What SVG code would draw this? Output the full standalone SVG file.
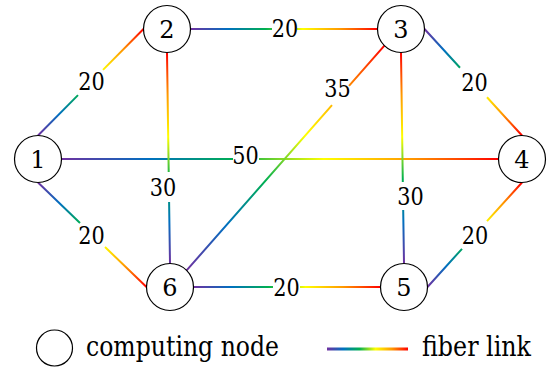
<svg xmlns="http://www.w3.org/2000/svg" width="551" height="370" viewBox="0 0 551 370">
  <style>
    text { font-family: "DejaVu Serif", "Liberation Serif", serif; fill: #000000; }
    .node circle { fill: #ffffff; stroke: #000000; stroke-width: 1.2; }
    .node text { font-size: 24px; text-anchor: middle; }
    .weight { font-size: 24px; text-anchor: middle; }
    .link { fill: none; stroke-width: 2; stroke-linecap: butt; }
    .legend text { font-size: 27px; }
  </style>
  <defs>
    <!-- spectrum used for every fiber link: purple end to red end -->
    <linearGradient id="rainbow">
      <stop offset="0" stop-color="#7030A0"/>
      <stop offset="0.2" stop-color="#0070C0"/>
      <stop offset="0.4" stop-color="#00B050"/>
      <stop offset="0.6" stop-color="#FFFF00"/>
      <stop offset="0.8" stop-color="#FF9900"/>
      <stop offset="1" stop-color="#FF0000"/>
    </linearGradient>
    <linearGradient id="g12" href="#rainbow" gradientUnits="userSpaceOnUse" x1="38" y1="135.5" x2="143.5" y2="29"/>
    <linearGradient id="g23" href="#rainbow" gradientUnits="userSpaceOnUse" x1="190.5" y1="29" x2="377.5" y2="29"/>
    <linearGradient id="g14" href="#rainbow" gradientUnits="userSpaceOnUse" x1="61.5" y1="159" x2="498.5" y2="159"/>
    <linearGradient id="g62" href="#rainbow" gradientUnits="userSpaceOnUse" x1="170" y1="263.5" x2="167" y2="52.5"/>
    <linearGradient id="g63" href="#rainbow" gradientUnits="userSpaceOnUse" x1="186.6" y1="270.4" x2="384.4" y2="45.6"/>
    <linearGradient id="g34" href="#rainbow" gradientUnits="userSpaceOnUse" x1="424.5" y1="29" x2="522" y2="135.5"/>
    <linearGradient id="g53" href="#rainbow" gradientUnits="userSpaceOnUse" x1="404" y1="263.5" x2="401" y2="52.5"/>
    <linearGradient id="g16" href="#rainbow" gradientUnits="userSpaceOnUse" x1="38" y1="182.5" x2="146.5" y2="287"/>
    <linearGradient id="g65" href="#rainbow" gradientUnits="userSpaceOnUse" x1="193.5" y1="287" x2="380.5" y2="287"/>
    <linearGradient id="g54" href="#rainbow" gradientUnits="userSpaceOnUse" x1="427.5" y1="287" x2="522" y2="182.5"/>
    <linearGradient id="gLegend" href="#rainbow" gradientUnits="userSpaceOnUse" x1="327" y1="349" x2="408" y2="349"/>
  </defs>

  <!-- fiber links, each broken where its weight is printed -->
  <g id="connectors">
    <path class="link" stroke="url(#g12)" d="M38 135.5 L78 95.1 M103 69.9 L143.5 29"/>
    <path class="link" stroke="url(#g23)" d="M190.5 29 L272 29 M297 29 L377.5 29"/>
    <path class="link" stroke="url(#g14)" d="M61.5 159 L233 159 M259 159 L498.5 159"/>
    <path class="link" stroke="url(#g62)" d="M167 52.5 L168.7 172 M169.1 202 L170 263.5"/>
    <path class="link" stroke="url(#g63)" d="M186.6 270.4 L332 105.1 M349 85.8 L384.4 45.6"/>
    <path class="link" stroke="url(#g34)" d="M424.5 29 L460 67.8 M487 97.3 L522 135.5"/>
    <path class="link" stroke="url(#g53)" d="M401 52.5 L402.8 182 M403.2 210 L404 263.5"/>
    <path class="link" stroke="url(#g16)" d="M38 182.5 L80 223 M105 247 L146.5 287"/>
    <path class="link" stroke="url(#g65)" d="M193.5 287 L273 287 M300 287 L380.5 287"/>
    <path class="link" stroke="url(#g54)" d="M427.5 287 L462 248.8 M487 221.2 L522 182.5"/>

    <text class="weight" x="91.5" y="90" textLength="26.5" lengthAdjust="spacingAndGlyphs">20</text>
    <text class="weight" x="285" y="37" textLength="26.5" lengthAdjust="spacingAndGlyphs">20</text>
    <text class="weight" x="245.5" y="164" textLength="26.5" lengthAdjust="spacingAndGlyphs">50</text>
    <text class="weight" x="163" y="196" textLength="26.5" lengthAdjust="spacingAndGlyphs">30</text>
    <text class="weight" x="337.5" y="97" textLength="26.5" lengthAdjust="spacingAndGlyphs">35</text>
    <text class="weight" x="474.5" y="91" textLength="26.5" lengthAdjust="spacingAndGlyphs">20</text>
    <text class="weight" x="410.5" y="205" textLength="26.5" lengthAdjust="spacingAndGlyphs">30</text>
    <text class="weight" x="91.5" y="244" textLength="26.5" lengthAdjust="spacingAndGlyphs">20</text>
    <text class="weight" x="286.5" y="295.5" textLength="26.5" lengthAdjust="spacingAndGlyphs">20</text>
    <text class="weight" x="475" y="244" textLength="26.5" lengthAdjust="spacingAndGlyphs">20</text>
  </g>

  <!-- computing nodes -->
  <g id="node-1" class="node"><circle cx="38" cy="159" r="23.5"/><text x="38" y="167.5">1</text></g>
  <g id="node-2" class="node"><circle cx="167" cy="29" r="23.5"/><text x="167" y="37.5">2</text></g>
  <g id="node-3" class="node"><circle cx="401" cy="29" r="23.5"/><text x="401" y="37.5">3</text></g>
  <g id="node-4" class="node"><circle cx="522" cy="159" r="23.5"/><text x="522" y="167.5">4</text></g>
  <g id="node-5" class="node"><circle cx="404" cy="287" r="23.5"/><text x="404" y="295.5">5</text></g>
  <g id="node-6" class="node"><circle cx="170" cy="287" r="23.5"/><text x="170" y="295.5">6</text></g>

  <!-- key -->
  <g id="legend" class="legend">
    <circle cx="54.5" cy="348" r="18" fill="#ffffff" stroke="#000000" stroke-width="1.2"/>
    <text x="86" y="356" textLength="193" lengthAdjust="spacingAndGlyphs">computing node</text>
    <line x1="327" y1="349" x2="408" y2="349" stroke="url(#gLegend)" stroke-width="3"/>
    <text x="422" y="356" textLength="109" lengthAdjust="spacingAndGlyphs">fiber link</text>
  </g>
</svg>
